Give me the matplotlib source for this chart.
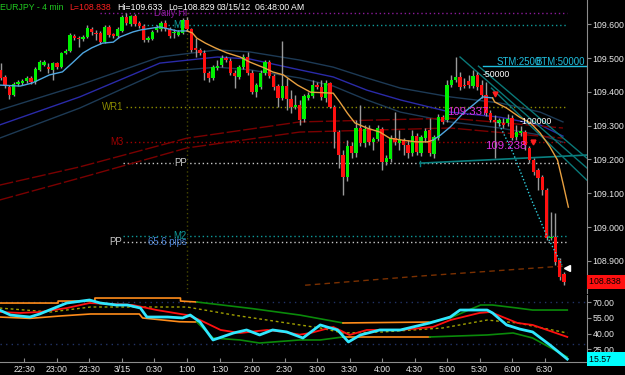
import matplotlib
matplotlib.use("Agg")
import matplotlib.pyplot as plt
from matplotlib.patches import Rectangle
from matplotlib.transforms import blended_transform_factory
import numpy as np

plt.rcParams['font.family'] = ['Liberation Sans', 'DejaVu Sans']

# ----------------------------------------------------------------------------------------
# Data (times are minutes from 3/15 00:00, 4-minute bars from 22:08 to 06:48)
# ----------------------------------------------------------------------------------------
bar_start, bar_step = -112, 4

open_ = [109.465, 109.444, 109.414, 109.391, 109.423, 109.426, 109.432, 109.441, 109.429, 109.465,
         109.479, 109.473, 109.465, 109.485, 109.473, 109.515, 109.521, 109.565, 109.559, 109.556,
         109.562, 109.586, 109.574, 109.574, 109.547, 109.592, 109.571, 109.565, 109.580, 109.621,
         109.601, 109.624, 109.604, 109.595, 109.553, 109.556, 109.583, 109.586, 109.604, 109.586,
         109.574, 109.568, 109.574, 109.612, 109.586, 109.530, 109.524, 109.515, 109.456, 109.441,
         109.470, 109.479, 109.500, 109.491, 109.456, 109.444, 109.473, 109.503, 109.456, 109.399,
         109.414, 109.456, 109.488, 109.447, 109.417, 109.382, 109.417, 109.379, 109.355, 109.361,
         109.320, 109.382, 109.388, 109.420, 109.414, 109.382, 109.426, 109.355, 109.281, 109.213,
         109.148, 109.240, 109.219, 109.293, 109.249, 109.290, 109.252, 109.260, 109.290, 109.192,
         109.201, 109.263, 109.249, 109.257, 109.243, 109.219, 109.269, 109.219, 109.263, 109.287,
         109.216, 109.263, 109.325, 109.317, 109.420, 109.435, 109.444, 109.420, 109.432, 109.417,
         109.450, 109.420, 109.391, 109.337, 109.317, 109.308, 109.308, 109.308, 109.322, 109.266,
         109.278, 109.281, 109.234, 109.198, 109.169, 109.148, 109.109, 108.967, 108.970, 108.902,
         108.861]
high = [109.485, 109.450, 109.420, 109.429, 109.435, 109.438, 109.447, 109.447, 109.473, 109.494,
        109.494, 109.485, 109.488, 109.488, 109.518, 109.527, 109.574, 109.571, 109.565, 109.568,
        109.598, 109.592, 109.583, 109.580, 109.598, 109.598, 109.574, 109.592, 109.627, 109.633,
        109.627, 109.630, 109.609, 109.601, 109.565, 109.583, 109.598, 109.609, 109.612, 109.592,
        109.586, 109.583, 109.618, 109.621, 109.589, 109.559, 109.530, 109.524, 109.462, 109.479,
        109.494, 109.509, 109.506, 109.500, 109.465, 109.479, 109.512, 109.518, 109.465, 109.426,
        109.465, 109.494, 109.494, 109.453, 109.423, 109.550, 109.441, 109.405, 109.391, 109.376,
        109.393, 109.399, 109.435, 109.429, 109.435, 109.435, 109.429, 109.361, 109.287, 109.228,
        109.257, 109.252, 109.317, 109.361, 109.302, 109.302, 109.266, 109.302, 109.296, 109.213,
        109.272, 109.340, 109.287, 109.263, 109.257, 109.287, 109.278, 109.272, 109.293, 109.322,
        109.272, 109.334, 109.331, 109.435, 109.450, 109.503, 109.459, 109.441, 109.450, 109.465,
        109.459, 109.435, 109.429, 109.346, 109.331, 109.322, 109.322, 109.334, 109.331, 109.302,
        109.299, 109.287, 109.240, 109.204, 109.175, 109.154, 109.115, 109.044, 109.041, 108.908,
        108.867]
low = [109.435, 109.411, 109.379, 109.388, 109.417, 109.420, 109.426, 109.423, 109.423, 109.462,
       109.476, 109.456, 109.435, 109.468, 109.470, 109.512, 109.518, 109.553, 109.533, 109.550,
       109.559, 109.568, 109.553, 109.541, 109.544, 109.562, 109.559, 109.559, 109.577, 109.598,
       109.595, 109.595, 109.589, 109.547, 109.547, 109.553, 109.577, 109.580, 109.580, 109.559,
       109.559, 109.565, 109.571, 109.580, 109.518, 109.503, 109.509, 109.435, 109.429, 109.435,
       109.465, 109.473, 109.488, 109.450, 109.411, 109.438, 109.468, 109.450, 109.393, 109.385,
       109.408, 109.450, 109.441, 109.405, 109.355, 109.376, 109.346, 109.337, 109.349, 109.302,
       109.311, 109.376, 109.382, 109.408, 109.376, 109.370, 109.352, 109.234, 109.175, 109.095,
       109.136, 109.204, 109.207, 109.240, 109.237, 109.243, 109.228, 109.254, 109.169, 109.183,
       109.192, 109.243, 109.228, 109.213, 109.204, 109.210, 109.213, 109.210, 109.252, 109.210,
       109.204, 109.257, 109.305, 109.311, 109.414, 109.429, 109.405, 109.411, 109.411, 109.411,
       109.405, 109.382, 109.328, 109.311, 109.204, 109.299, 109.293, 109.299, 109.257, 109.257,
       109.269, 109.228, 109.189, 109.154, 109.109, 109.095, 108.962, 108.962, 108.888, 108.843,
       108.829]
close = [109.441, 109.420, 109.391, 109.423, 109.429, 109.432, 109.441, 109.429, 109.468, 109.488,
         109.488, 109.468, 109.485, 109.473, 109.515, 109.521, 109.568, 109.559, 109.556, 109.562,
         109.589, 109.577, 109.571, 109.547, 109.592, 109.568, 109.565, 109.586, 109.621, 109.604,
         109.624, 109.601, 109.595, 109.553, 109.559, 109.577, 109.592, 109.604, 109.586, 109.565,
         109.577, 109.577, 109.612, 109.586, 109.524, 109.524, 109.515, 109.456, 109.441, 109.473,
         109.476, 109.500, 109.494, 109.456, 109.447, 109.473, 109.503, 109.456, 109.399, 109.420,
         109.456, 109.488, 109.447, 109.414, 109.382, 109.417, 109.379, 109.355, 109.361, 109.317,
         109.388, 109.391, 109.420, 109.414, 109.385, 109.426, 109.355, 109.281, 109.213, 109.148,
         109.240, 109.219, 109.293, 109.249, 109.290, 109.252, 109.260, 109.293, 109.192, 109.204,
         109.263, 109.252, 109.257, 109.243, 109.219, 109.269, 109.222, 109.266, 109.284, 109.219,
         109.266, 109.325, 109.311, 109.420, 109.435, 109.444, 109.414, 109.417, 109.420, 109.447,
         109.414, 109.391, 109.337, 109.317, 109.311, 109.317, 109.302, 109.320, 109.263, 109.281,
         109.284, 109.243, 109.198, 109.163, 109.145, 109.109, 108.967, 108.970, 108.896, 108.852,
         108.838]

# moving average, coloured light blue while rising and orange while falling
ema_t = [-113, -94, -83, -67, -55, -46, -36, -28, -18, -8, -2, 10, 17, 35, 51, 60,
         65, 69, 77, 86, 97, 109, 118, 132, 139, 149, 162, 174, 195, 201, 208, 215, 226, 238,
         247, 259, 272, 282, 287,
         294, 303, 315, 324, 333, 342,
         344, 355, 367, 377, 386, 395, 402, 407, 412]
ema_p = [109.420, 109.417, 109.426, 109.450, 109.459, 109.485, 109.515, 109.530, 109.544, 109.547,
         109.562, 109.577, 109.583, 109.592, 109.580, 109.580,
         109.574, 109.559, 109.544, 109.530, 109.515, 109.503, 109.488, 109.470, 109.459, 109.450,
         109.420, 109.399, 109.396, 109.370, 109.337, 109.308, 109.293, 109.281, 109.263, 109.257,
         109.252, 109.252, 109.257,
         109.272, 109.296, 109.337, 109.361, 109.385, 109.382,
         109.370, 109.352, 109.325, 109.308, 109.278, 109.237, 109.198, 109.130, 109.059]
ema_breaks = [0, 15, 38, 44, 53]

# envelope band (upper / middle / lower)
band_t = [-113, -39, 35, 88, 118, 164, 195, 226, 257, 303, 349, 386, 407]
band_up = [109.346, 109.420, 109.503, 109.524, 109.518, 109.494, 109.473, 109.441, 109.411, 109.385,
           109.367, 109.340, 109.311]
band_mid = [109.302, 109.385, 109.485, 109.503, 109.497, 109.465, 109.444, 109.405, 109.376, 109.340,
            109.325, 109.302, 109.269]
band_low = [109.263, 109.352, 109.459, 109.473, 109.465, 109.441, 109.417, 109.376, 109.340, 109.311,
            109.293, 109.272, 109.251]

# dark red curves
red_t = [-113, -39, 60, 164, 303, 407]
red_a = [109.124, 109.178, 109.263, 109.311, 109.322, 109.293]
red_b = [109.080, 109.145, 109.234, 109.281, 109.293, 109.263]

# pivot levels: label, price, colour, label time, line start
level_names = ["Daily Hi", "M4", "WR1", "M3", "PP", "M2", "PP"]
level_prices = [109.634, 109.598, 109.355, 109.251, 109.189, 108.973, 108.956]
level_colors = ["#8a1a9a", "#0f9a9a", "#8c8c00", "#a00000", "#c8c8c8", "#0f9a9a", "#c8c8c8"]
level_label_t = [60, 60, 1, 1, 60, 60, 0]
level_start_t = [-20, 19, 4, 4, 1, 1, 1]

# lower panel oscillator
osc_t = [-113, -103, -85, -76, -67, -51, -30, -20, -5, 5, 17, 23, 42, 56, 63, 72, 84, 103, 115, 127,
         139, 152, 167, 183, 189, 199, 209, 220, 238, 257, 284, 303, 312, 337, 342, 355, 367, 379, 395, 411]
osc_v = [62.6, 57.8, 55.9, 58.8, 62.6, 69.3, 72.2, 69.3, 67.4, 67.4, 64.5, 55.9, 55.9, 55.0, 57.8, 51.1,
         33.9, 40.6, 43.5, 38.7, 43.5, 41.6, 35.8, 48.3, 46.4, 43.5, 32.0, 38.7, 43.5, 43.5, 50.2, 55.9,
         62.6, 62.6, 59.8, 48.3, 44.4, 41.6, 29.1, 15.57]
sig_t = [-113, -94, -76, -51, -30, -11, 10, 32, 60, 72, 91, 109, 134, 149, 164, 174, 195, 210, 226, 257,
         287, 303, 330, 340, 365, 379, 411]
sig_v = [60.7, 59.8, 60.7, 64.5, 69.3, 68.4, 67.4, 62.6, 57.8, 53.0, 43.5, 40.6, 43.5, 41.6, 39.0, 40.6,
         46.4, 38.7, 43.5, 43.5, 46.4, 53.0, 59.8, 60.7, 50.2, 48.3, 36.8]
mid_t = [-113, -66, -29, 60, 103, 183, 204, 241, 296, 337, 365, 411]
mid_v = [64.5, 60.7, 65.5, 65.5, 57.8, 45.4, 40.6, 41.6, 45.4, 53.0, 50.2, 40.6]
up_t = [-113, -59, -59, -25, -25, 54, 54, 69, 120, 164, 204, 284, 303, 320, 331, 342, 365, 379, 411]
up_v = [69.3, 69.3, 71.2, 71.2, 74.1, 74.1, 71.2, 70.3, 64.0, 57.8, 50.2, 51.1, 55.0, 62.6, 67.4, 67.4,
        64.5, 62.6, 62.6]
up_breaks = [0, 7, 10, 11, 18]
lo_t = [-113, -85, -57, -29, 16, 19, 53, 69, 84, 109, 127, 164, 183, 204, 284, 337, 361, 379, 411]
lo_v = [55.9, 54.6, 56.9, 58.8, 58.8, 55.0, 51.4, 51.1, 35.8, 33.9, 31.0, 33.9, 33.9, 36.8, 36.8, 38.7,
        40.6, 35.8, 17.6]
lo_breaks = [0, 7, 13, 14, 18]

time_ticks = [-90, -60, -30, 0, 30, 60, 90, 120, 150, 180, 210, 240, 270, 300, 330, 360, 390]
time_labels = ["22:30", "23:00", "23:30", "3/15", "0:30", "1:00", "1:30", "2:00", "2:30", "3:00",
               "3:30", "4:00", "4:30", "5:00", "5:30", "6:00", "6:30"]

FS = 6.3
GRID = '#8c8c8c'
BLUE, ORANGE = '#4fa6e0', '#e8a040'
BAND_OR, BAND_GR = '#ff8c1a', '#0a8a0a'


def segments(ax, t, v, breaks, colors, **kw):
    for k in range(len(breaks) - 1):
        a, b = breaks[k], breaks[k + 1] + 1
        ax.plot(t[a:b], v[a:b], color=colors[k % len(colors)], **kw)


def plot_price(ax):
    ax.set_facecolor('black')
    n = len(close)
    tt = bar_start + bar_step * np.arange(n)
    o, h, l, c = map(np.asarray, (open_, high, low, close))

    # pivot levels
    for name, p, col, lt, st in zip(level_names, level_prices, level_colors, level_label_t, level_start_t):
        ax.plot([st, 411], [p, p], color=col, lw=1.0, ls=(0, (1, 2)), zorder=1)
        ax.text(lt, p, name, color=col, fontsize=FS + 0.6, ha='right', va='center', zorder=1.5,
                bbox=dict(fc='black', ec='none', pad=0.3) if name in ("PP", "M2") else None)
    ax.text(60, 108.956, "65.6 pips", color='#4a80d0', fontsize=FS + 0.6, ha='right', va='center',
            zorder=1.6)
    ax.axvline(60, color='#4a4a00', lw=1.0, ls=(0, (1, 2)), zorder=1)

    # envelope band and dark red curves
    ax.plot(band_t, band_up, color='#1d3a55', lw=1.0, zorder=2)
    ax.plot(band_t, band_mid, color='#2a2aa8', lw=1.0, zorder=2)
    ax.plot(band_t, band_low, color='#1d3a55', lw=1.0, zorder=2)
    ax.plot(red_t, red_a, color='#7a0000', lw=1.0, ls=(0, (10, 2)), zorder=2)
    ax.plot(red_t, red_b, color='#7a0000', lw=1.0, ls=(0, (10, 2)), zorder=2)
    ax.plot([169, 275, 409], [108.828, 108.855, 108.885], color='#7a3000', lw=1.0,
            ls=(0, (4, 3)), zorder=2)

    # candles
    up = c >= o
    cols = np.where(up, '#00f000', '#ff1010')
    ax.vlines(tt, l, h, color='#9a9a9a', lw=1.0, zorder=3)
    body = np.maximum(np.abs(c - o), 0.0025)
    ax.bar(tt, body, bottom=np.minimum(o, c), width=2.9, color=cols, linewidth=0, zorder=3.5)

    # moving average
    segments(ax, ema_t, ema_p, ema_breaks, [BLUE, ORANGE], lw=1.0, zorder=4)

    # trend lines
    ax.plot([275, 429], [109.189, 109.213], color='#0a8080', lw=1.2, zorder=2.5)
    ax.plot([275, 275], [109.180, 109.195], color='#0a8080', lw=1.0, zorder=2.5)
    ax.plot([312, 429], [109.503, 109.175], color='#0a7878', lw=1.0, zorder=2.5)
    ax.plot([329, 429], [109.476, 109.204], color='#0a7878', lw=1.0, zorder=2.5)
    ax.plot([341, 429], [109.411, 109.139], color='#0a7878', lw=1.0, zorder=2.5)
    ax.plot([347, 361, 378, 391, 406], [109.311, 109.219, 109.080, 108.982, 108.888],
            color='#30d0e0', lw=1.0, ls=(0, (1, 1.5)), zorder=4)
    ax.plot([411], [108.879], marker='<', color='white', ms=5, zorder=5)
    ax.plot([344, 379], [109.393, 109.251], 'v', color='#ff2020', ms=3.5, zorder=5)

    # annotations
    ax.text(346, 109.488, "STM:2500", color='#20c0e0', fontsize=6.9, ha='left', va='center', zorder=5)
    ax.text(427.5, 109.488, "BTM:50000", color='#20c0e0', fontsize=6.9, ha='right', va='center', zorder=5)
    ax.plot([333, 428], [109.475, 109.475], color='#20c0e0', lw=1.0, zorder=5)
    ax.text(333, 109.450, "-50000", color='white', fontsize=FS, ha='left', va='center', zorder=5)
    ax.text(367, 109.311, "-100000", color='white', fontsize=FS, ha='left', va='center', zorder=5)
    ax.text(300, 109.340, "109.337", color='#d830e0', fontsize=8.2, ha='left', va='center', zorder=5)
    ax.text(335, 109.240, "109.238", color='#d830e0', fontsize=8.2, ha='left', va='center', zorder=5)

    ax.set_xlim(-112.6, 429.2)
    ax.set_ylim(108.805, 109.6716)
    ax.set_yticks([108.9, 109.0, 109.1, 109.2, 109.3, 109.4, 109.5, 109.6])
    ax.set_yticklabels(["%.3f" % v for v in ax.get_yticks()])
    ax.set_xticks([])

    # last price box
    trans = blended_transform_factory(ax.transAxes, ax.transData)
    ax.text(1.004, close[-1], "%.3f " % close[-1], transform=trans, color='black', fontsize=FS,
            ha='left', va='center', clip_on=False,
            bbox=dict(boxstyle='square,pad=0.25', fc='#ff1010', ec='none'))


def plot_osc(ax):
    ax.set_facecolor('black')
    for lvl in (70, 30):
        ax.axhline(lvl, color='#223366', lw=1.0, ls=(0, (1, 3)), zorder=1)
    segments(ax, up_t, up_v, up_breaks, [BAND_OR, BAND_GR], lw=1.2, zorder=2)
    segments(ax, lo_t, lo_v, lo_breaks, [BAND_OR, BAND_GR], lw=1.2, zorder=2)
    ax.plot(mid_t, mid_v, color='#a0a000', lw=1.0, ls=(0, (2, 2)), zorder=2)
    ax.plot(sig_t, sig_v, color='#ff1010', lw=1.3, zorder=3)
    ax.plot(osc_t, osc_v, color='#30e8ff', lw=2.0, zorder=4)

    ax.set_xlim(-112.6, 429.2)
    ax.set_ylim(12.8, 77.0)
    ax.set_yticks([25, 40, 55, 70])
    ax.set_yticklabels(["%.2f" % v for v in ax.get_yticks()])
    ax.set_xticks(time_ticks)
    ax.set_xticklabels(time_labels)

    trans = blended_transform_factory(ax.transAxes, ax.transData)
    ax.text(1.004, osc_v[-1], "%.2f      " % osc_v[-1], transform=trans, color='black', fontsize=FS,
            ha='left', va='center', clip_on=False,
            bbox=dict(boxstyle='square,pad=0.25', fc='#00ffff', ec='none'))


def style(ax, bottom):
    for side in ('top', 'left'):
        ax.spines[side].set_visible(False)
    ax.spines['right'].set_color(GRID)
    ax.spines['bottom'].set_visible(bottom)
    ax.spines['bottom'].set_color(GRID)
    ax.yaxis.tick_right()
    ax.tick_params(axis='y', colors=GRID, labelcolor='#e8e8e8', labelsize=FS,
                   length=3, width=0.8, pad=1)
    ax.tick_params(axis='x', colors=GRID, labelcolor='#e8e8e8', labelsize=FS,
                   direction='in', length=3, width=0.8, pad=2)


# ----------------------------------------------------------------------------------------
# Entry point
# ----------------------------------------------------------------------------------------
def main():
    W, H = 625.0, 375.0
    fig = plt.figure(figsize=(6.25, 3.75), dpi=100, facecolor='black')
    ax = fig.add_axes([0, 82 / H, 587 / W, 293 / H])
    ax2 = fig.add_axes([0, 13 / H, 587 / W, 67 / H])

    plot_price(ax)
    plot_osc(ax2)
    style(ax, False)
    style(ax2, True)

    # header strip drawn over the top of the price panel
    fig.patches.append(Rectangle((0, 1 - 10 / H), 586 / W, 10 / H, transform=fig.transFigure,
                                 facecolor='black', edgecolor='none', zorder=10))
    y = 1 - 9.5 / H
    fig.text(0 / W, y, "EURJPY - 4 min", color='#20c820', fontsize=FS, va='baseline', zorder=11)
    fig.text(69 / W, y, "L=108.838", color='#ff2020', fontsize=FS, va='baseline', zorder=11)
    fig.text(117 / W, y, "Hi=109.633", color='white', fontsize=FS, va='baseline', zorder=11)
    fig.text(168 / W, y, "Lo=108.829", color='white', fontsize=FS, va='baseline', zorder=11)
    fig.text(217 / W, y, "03/15/12", color='white', fontsize=FS, va='baseline', zorder=11)
    fig.text(255 / W, y, "06:48:00 AM", color='white', fontsize=FS, va='baseline', zorder=11)

    fig.savefig("out.png", dpi=100, facecolor='black')


if __name__ == "__main__":
    main()
